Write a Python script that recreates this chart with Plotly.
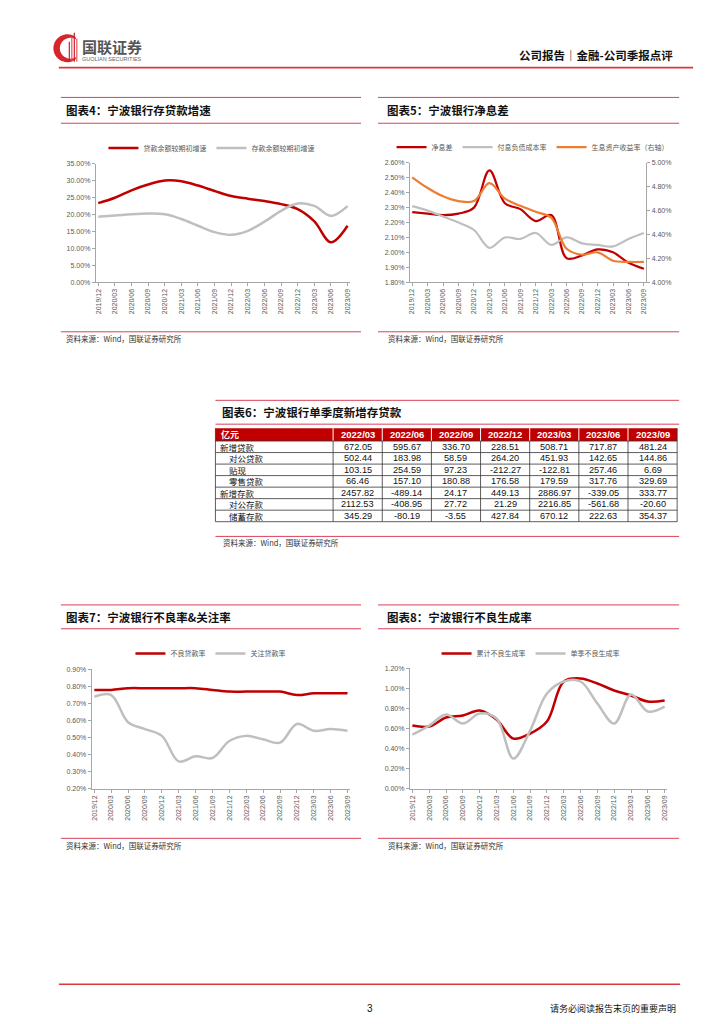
import numpy as np
import plotly.graph_objects as go

W, H = 724, 1024
CJK = "Noto Sans CJK SC"
NUMF = "Liberation Sans"

# ---------------- data ----------------
quarters = ["2019/12", "2020/03", "2020/06", "2020/09", "2020/12", "2021/03", "2021/06", "2021/09",
            "2021/12", "2022/03", "2022/06", "2022/09", "2022/12", "2023/03", "2023/06", "2023/09"]

# Chart 4: loan / deposit growth vs start of year (%)
loan_growth = [23.4, 25.0, 27.2, 28.9, 30.1, 29.9, 28.6, 27.0, 25.5, 24.7, 24.0, 23.1, 21.6, 18.0, 11.8, 16.7]
deposit_growth = [19.4, 19.7, 20.1, 20.3, 20.1, 18.7, 16.7, 14.8, 14.0, 15.2, 17.9, 21.1, 23.3, 22.6, 19.6, 22.5]

# Chart 5: NIM, liability cost (left), asset yield (right) (%)
nim = [2.27, 2.26, 2.25, 2.26, 2.30, 2.55, 2.33, 2.29, 2.21, 2.25, 1.96, 1.98, 2.02, 2.00, 1.93, 1.89]
liab_cost = [2.31, 2.28, 2.24, 2.20, 2.15, 2.03, 2.10, 2.09, 2.13, 2.05, 2.10, 2.06, 2.05, 2.04, 2.09, 2.13]
asset_yield = [4.88, 4.79, 4.72, 4.68, 4.68, 4.83, 4.70, 4.64, 4.59, 4.54, 4.28, 4.23, 4.25, 4.18, 4.17, 4.17]

# Chart 7: NPL ratio & special mention ratio (%)
npl_ratio = [0.78, 0.78, 0.79, 0.79, 0.79, 0.79, 0.79, 0.78, 0.77, 0.77, 0.77, 0.77, 0.75, 0.76, 0.76, 0.76]
sm_ratio = [0.74, 0.75, 0.59, 0.55, 0.51, 0.36, 0.39, 0.38, 0.48, 0.51, 0.49, 0.47, 0.58, 0.54, 0.55, 0.54]

# Chart 8: NPL formation (%)
npl_form_cum = [0.63, 0.62, 0.71, 0.73, 0.78, 0.69, 0.50, 0.55, 0.67, 1.07, 1.10, 1.05, 0.98, 0.93, 0.87, 0.88]
npl_form_q = [0.54, 0.63, 0.74, 0.65, 0.75, 0.70, 0.30, 0.58, 0.95, 1.07, 1.07, 0.85, 0.65, 0.94, 0.77, 0.82]

# Table 6 (亿元)
table_cols = ["2022/03", "2022/06", "2022/09", "2022/12", "2023/03", "2023/06", "2023/09"]
table_rows = ["新增贷款", "对公贷款", "贴现", "零售贷款", "新增存款", "对公存款", "储蓄存款"]
row_indent = [0, 1, 1, 1, 0, 1, 1]
new_loans = [672.05, 595.67, 336.70, 228.51, 508.71, 717.87, 481.24]
corp_loans = [502.44, 183.98, 58.59, 264.20, 451.93, 142.65, 144.86]
discount = [103.15, 254.59, 97.23, -212.27, -122.81, 257.46, 6.69]
retail_loans = [66.46, 157.10, 180.88, 176.58, 179.59, 317.76, 329.69]
new_deposits = [2457.82, -489.14, 24.17, 449.13, 2886.97, -339.05, 333.77]
corp_deposits = [2112.53, -408.95, 27.72, 21.29, 2216.85, -561.68, -20.60]
savings_deposits = [345.29, -80.19, -3.55, 427.84, 670.12, 222.63, 354.37]

# ---------------- helpers ----------------
def px(x):
    return x / W

def py(y):
    return 1 - y / H

RED = "#C00000"
GREY = "#BFBFBF"
ORANGE = "#ED7D31"
LINE_RED = "#D9415A"
TICKC = "#595959"

fig = go.Figure()

def add_line(x, y, name, color, xa, ya, legend, width=2.5):
    fig.add_trace(go.Scatter(
        x=x, y=y, name=name, mode="lines",
        line=dict(color=color, width=width, shape="spline", smoothing=1.0),
        xaxis=xa, yaxis=ya, legend=legend, hoverinfo="skip"))

add_line(quarters, loan_growth, "贷款余额较期初增速", RED, "x", "y", "legend")
add_line(quarters, deposit_growth, "存款余额较期初增速", GREY, "x", "y", "legend")

add_line(quarters, nim, "净息差", RED, "x2", "y2", "legend2", 2.2)
add_line(quarters, liab_cost, "付息负债成本率", GREY, "x2", "y2", "legend2", 2.2)
add_line(quarters, asset_yield, "生息资产收益率（右轴）", ORANGE, "x2", "y3", "legend2", 2.2)

add_line(quarters, npl_ratio, "不良贷款率", RED, "x3", "y4", "legend3")
add_line(quarters, sm_ratio, "关注贷款率", GREY, "x3", "y4", "legend3")

add_line(quarters, npl_form_cum, "累计不良生成率", RED, "x4", "y5", "legend4")
add_line(quarters, npl_form_q, "单季不良生成率", GREY, "x4", "y5", "legend4")

# ---------------- axes ----------------
def xax(x0, x1, anchor):
    return dict(domain=[px(x0), px(x1)], anchor=anchor, type="category",
                range=[-0.15, 15.15], tickangle=-90, showgrid=False, zeroline=False,
                showline=True, linecolor="#A6A6A6", linewidth=1,
                ticks="outside", ticklen=3, tickcolor="#A6A6A6",
                tickfont=dict(size=7, color=TICKC, family=NUMF), dtick=1)

def yax(y0, y1, anchor, rng, dtick, side="left", overlaying=None):
    d = dict(domain=[py(y1), py(y0)], anchor=anchor, range=rng, dtick=dtick,
             tickformat=".2f", ticksuffix="%", showgrid=False, zeroline=False,
             showline=True, linecolor="#A6A6A6", linewidth=1,
             ticks="outside", ticklen=3, tickcolor="#A6A6A6", side=side,
             tickfont=dict(size=7, color=TICKC, family=NUMF))
    if overlaying:
        d["overlaying"] = overlaying
        d.pop("domain")
    return d

layout = dict(
    width=W, height=H, autosize=False,
    margin=dict(l=0, r=0, t=0, b=0),
    paper_bgcolor="white", plot_bgcolor="white",
    font=dict(family=CJK, color="#222222"),
    xaxis=xax(87, 342, "y"),
    yaxis=yax(153, 272, "x", [0, 35], 5),
    xaxis2=xax(402, 639, "y2"),
    yaxis2=yax(152, 272, "x2", [1.8, 2.6], 0.1),
    yaxis3=yax(152, 272, "x2", [4.0, 5.0], 0.2, side="right", overlaying="y2"),
    xaxis3=xax(83, 342, "y4"),
    yaxis4=yax(662, 782, "x3", [0.2, 0.9], 0.1),
    xaxis4=xax(402, 660, "y5"),
    yaxis5=yax(661, 782, "x4", [0, 1.2], 0.2),
)

def leg(xc, yc):
    return dict(x=px(xc), y=py(yc), xanchor="center", yanchor="middle", orientation="h",
                font=dict(size=7, color=TICKC, family=CJK), bgcolor="rgba(0,0,0,0)",
                itemwidth=30, tracegroupgap=0, itemclick=False)

layout["legend"] = leg(203, 137)
layout["legend2"] = leg(525, 136)
layout["legend3"] = leg(202, 646)
layout["legend4"] = leg(523, 646)
fig.update_layout(**layout)
fig.update_layout(showlegend=True)

# ---------------- decorations ----------------
shapes = []
annotations = []

def hline(y, x0, x1, color=LINE_RED, width=1):
    shapes.append(dict(type="line", xref="paper", yref="paper",
                       x0=px(x0), x1=px(x1), y0=py(y), y1=py(y),
                       line=dict(color=color, width=width)))

def vline(x, y0, y1, color, width=0.8):
    shapes.append(dict(type="line", xref="paper", yref="paper",
                       x0=px(x), x1=px(x), y0=py(y0), y1=py(y1),
                       line=dict(color=color, width=width)))

def text(x, y, s, size, color="#111111", anchor="left", family=CJK):
    annotations.append(dict(x=px(x), y=py(y), xref="paper", yref="paper", text=s,
                            showarrow=False, xanchor=anchor, yanchor="middle",
                            font=dict(size=size, color=color, family=family)))

hline(56, 50, 686, "#D9363E", 1.6)
for (xa, xb) in [(52, 353), (370, 672)]:
    hline(86, xa, xb)
    hline(112, xa, xb)
    hline(322, xa, xb)
    hline(597, xa, xb)
    hline(621, xa, xb)
    hline(832, xa, xb)
hline(391, 207, 672)
hline(415, 207, 672)
hline(528, 207, 672)
hline(979, 50, 673, "#D9363E", 1.4)

# ---------------- table 6 (grid of cells built from the data lists) ----------------
T_X0, T_X1 = 207, 670
T_Y0, HDR_H, ROW_H = 419, 13.0, 11.6
first_w = 118
col_w = (T_X1 - T_X0 - first_w) / len(table_cols)
col_edges = [T_X0, T_X0 + first_w] + [T_X0 + first_w + col_w * (k + 1) for k in range(len(table_cols))]
hdr_bot = T_Y0 + HDR_H
t_bot = hdr_bot + ROW_H * len(table_rows)

shapes.append(dict(type="rect", xref="paper", yref="paper",
                   x0=px(T_X0), x1=px(T_X1), y0=py(hdr_bot), y1=py(T_Y0),
                   fillcolor=RED, line=dict(width=0)))
for e in col_edges[1:-1]:
    vline(e, T_Y0, hdr_bot, "white", 1)
for e in col_edges:
    vline(e, hdr_bot, t_bot, "#333333", 0.8)
for r in range(len(table_rows) + 1):
    hline(hdr_bot + r * ROW_H, T_X0, T_X1, "#333333", 0.8)
vline(T_X0, T_Y0, hdr_bot, "#333333", 0.8)
vline(T_X1, T_Y0, hdr_bot, "#333333", 0.8)

hc = T_Y0 + HDR_H / 2
text(T_X0 + 4, hc, "<b>亿元</b>", 9, "white")
for k, c in enumerate(table_cols):
    text((col_edges[k + 1] + col_edges[k + 2]) / 2, hc, f"<b>{c}</b>", 9.5, "white", "center", NUMF)

series_by_row = [new_loans, corp_loans, discount, retail_loans, new_deposits, corp_deposits, savings_deposits]
for r, (lab, ind, vals) in enumerate(zip(table_rows, row_indent, series_by_row)):
    yc = hdr_bot + ROW_H * (r + 0.5)
    text(T_X0 + 3 + 9 * ind, yc, lab, 8.5, "#111111")
    for k, v in enumerate(vals):
        text((col_edges[k + 1] + col_edges[k + 2]) / 2, yc, f"{v:.2f}", 9.2, "#111111", "center", NUMF)

# logo crescent
cx, cy, r_out, r_in, off = 58.5, 36.5, 14.0, 10.5, 3.0
a = np.linspace(np.deg2rad(55), np.deg2rad(305), 40)
outer = [(cx + r_out * np.cos(t), cy - r_out * np.sin(t)) for t in a]
inner = [(cx + off + r_in * np.cos(t), cy - r_in * np.sin(t)) for t in a[::-1]]
pts = outer + inner
path = "M " + " L ".join(f"{px(x):.5f},{py(y):.5f}" for x, y in pts) + " Z"
shapes.append(dict(type="path", xref="paper", yref="paper", path=path,
                   fillcolor="#D7262B", line=dict(width=0)))
for i, (lx, ly0) in enumerate([(60.5, 30), (63, 25), (65.5, 21), (68, 27)]):
    vline(lx, ly0, 50, "#E0595D" if i % 2 else "#C9202A", 1.2)

text(71, 35, "<b>国联证券</b>", 15, "#555555")
text(71, 47, "GUOLIAN SECURITIES", 5.5, "#666666", family=NUMF)
text(668, 43, "<b>公司报告｜金融-公司季报点评</b>", 11.5, "#111111", anchor="right")

text(55, 99, "<b>图表4：宁波银行存贷款增速</b>", 11.5)
text(377, 99, "<b>图表5：宁波银行净息差</b>", 11.5)
text(212, 403, "<b>图表6：宁波银行单季度新增存贷款</b>", 11.5)
text(55, 609, "<b>图表7：宁波银行不良率&关注率</b>", 11.5)
text(377, 609, "<b>图表8：宁波银行不良生成率</b>", 11.5)

src = "资料来源：Wind，国联证券研究所"
text(55, 329, src, 7.5, "#333333")
text(378, 329, src, 7.5, "#333333")
text(213, 534, src, 7.5, "#333333")
text(55, 839, src, 7.5, "#333333")
text(378, 839, src, 7.5, "#333333")

text(362, 1003, "3", 10, "#111111", anchor="center", family=NUMF)
text(671, 1003, "请务必阅读报告末页的重要声明", 9, "#111111", anchor="right")

fig.update_layout(shapes=shapes, annotations=annotations)
fig.write_html("out.html")
